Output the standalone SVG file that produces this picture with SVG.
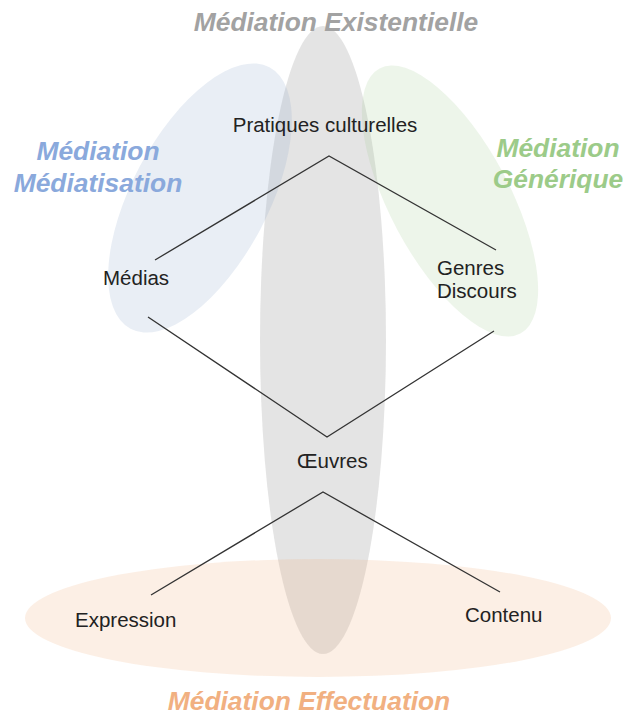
<svg xmlns="http://www.w3.org/2000/svg" width="623" height="715" viewBox="0 0 623 715">
<style>
.node{font-family:"Liberation Sans",Arial,sans-serif;font-size:20.5px;fill:#222}
.title{font-family:"Liberation Sans",Arial,sans-serif;font-size:26.4px;font-weight:bold;font-style:italic;text-anchor:middle}
.conn{stroke:#333;stroke-width:1.3;fill:none}
</style>
<rect width="623" height="715" fill="#fff"/>
<g id="zones">
<ellipse id="zone-existentielle" cx="323" cy="340" rx="63" ry="314" fill="#a5a5a5" fill-opacity="0.3"/>
<ellipse id="zone-mediatisation" cx="200" cy="198" rx="68" ry="148" transform="rotate(28 200 198)" fill="#8fa9cc" fill-opacity="0.2"/>
<ellipse id="zone-generique" cx="450" cy="201" rx="60" ry="150" transform="rotate(-28 450 201)" fill="#9cc88a" fill-opacity="0.18"/>
<ellipse id="zone-effectuation" cx="318" cy="618" rx="293" ry="59" fill="#eeb07e" fill-opacity="0.2"/>
</g>
<g id="titles">
<text class="title" x="336" y="31" fill="#a2a2a2">Médiation Existentielle</text>
<text class="title" x="98" y="160" fill="#8aa9dc">Médiation</text>
<text class="title" x="98" y="192" fill="#8aa9dc">Médiatisation</text>
<text class="title" x="558" y="157" fill="#9ccb89">Médiation</text>
<text class="title" x="558" y="188" fill="#9ccb89">Générique</text>
<text class="title" x="309" y="710" fill="#f1b081">Médiation Effectuation</text>
</g>
<g id="connectors">
<polyline class="conn" points="155,260 329,156 496,250"/>
<polyline class="conn" points="148,317 327,437 494,331"/>
<polyline class="conn" points="151,595 323,492 500,592"/>
</g>
<g id="node-pratiques"><text class="node" x="325" y="132" text-anchor="middle">Pratiques culturelles</text></g>
<g id="node-medias"><text class="node" x="103" y="285">Médias</text></g>
<g id="node-genres"><text class="node" x="437" y="275">Genres</text><text class="node" x="437" y="298">Discours</text></g>
<g id="node-oeuvres"><text class="node" x="297" y="468">Œuvres</text></g>
<g id="node-expression"><text class="node" x="75" y="627">Expression</text></g>
<g id="node-contenu"><text class="node" x="465" y="622">Contenu</text></g>
</svg>
